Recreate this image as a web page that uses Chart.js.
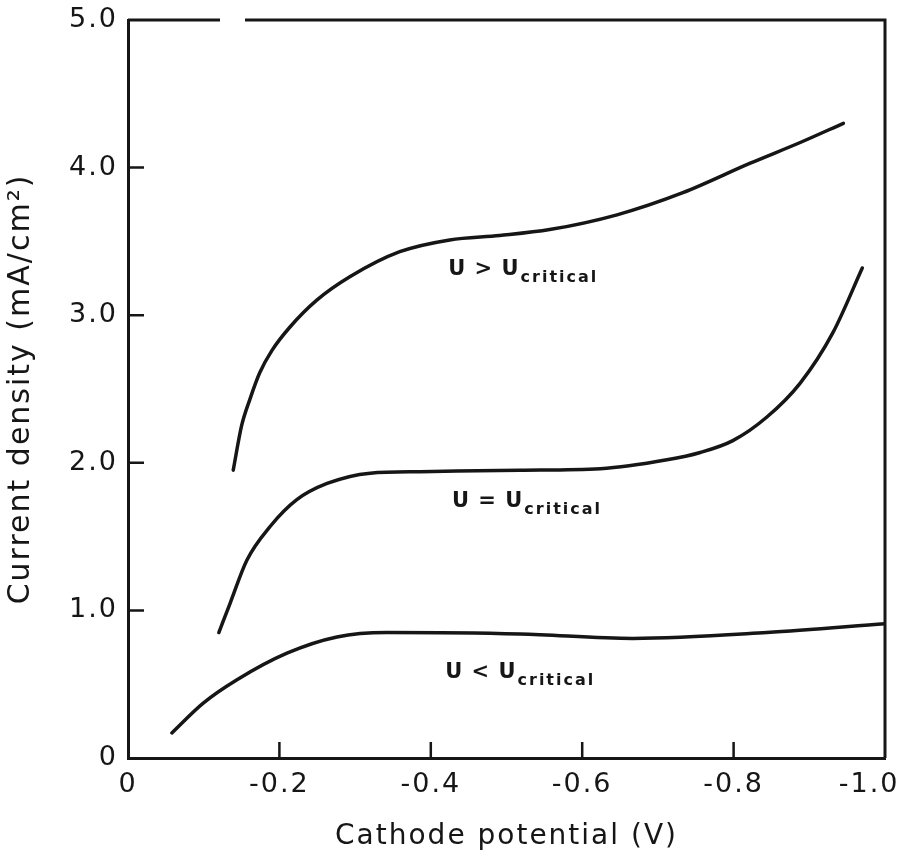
<!DOCTYPE html>
<html>
<head>
<meta charset="utf-8">
<script src="https://cdn.jsdelivr.net/npm/chart.js@4.4.1/dist/chart.umd.min.js"></script>
<style>
  html, body { margin: 0; padding: 0; background: #fff; }
  #wrap { width: 906px; height: 856px; }
</style>
</head>
<body>
<div id="wrap"><canvas id="chart" width="906" height="856"></canvas></div>
<script>
// Current density against cathode potential for three agitation regimes

// U > U critical
var aboveV = [-0.139, -0.150, -0.161, -0.174, -0.190, -0.214, -0.249, -0.293, -0.359, -0.425, -0.491, -0.557, -0.646, -0.733, -0.822, -0.888, -0.945];
var aboveJ = [1.95, 2.25, 2.43, 2.61, 2.76, 2.92, 3.10, 3.26, 3.43, 3.51, 3.54, 3.58, 3.68, 3.83, 4.03, 4.17, 4.30];

// U = U critical
var equalV = [-0.120, -0.135, -0.157, -0.188, -0.223, -0.263, -0.320, -0.386, -0.518, -0.624, -0.712, -0.756, -0.799, -0.844, -0.888, -0.931, -0.970];
var equalJ = [0.85, 1.05, 1.34, 1.57, 1.75, 1.86, 1.93, 1.94, 1.95, 1.96, 2.02, 2.07, 2.15, 2.31, 2.54, 2.88, 3.32];

// U < U critical
var belowV = [-0.058, -0.099, -0.144, -0.210, -0.276, -0.342, -0.518, -0.667, -0.844, -1.0];
var belowJ = [0.17, 0.37, 0.53, 0.71, 0.82, 0.85, 0.84, 0.81, 0.85, 0.91];

var regimes = ['>', '=', '<'];

var xTicks = [0, -0.2, -0.4, -0.6, -0.8, -1.0];
var xTickLabels = ['0', '-0.2', '-0.4', '-0.6', '-0.8', '-1.0'];
var yTicks = [0, 1, 2, 3, 4, 5];
var yTickLabels = ['0', '1.0', '2.0', '3.0', '4.0', '5.0'];

var INK = '#161616';
Chart.defaults.font.family = '"DejaVu Sans", sans-serif';
Chart.defaults.color = INK;

function toPoints(xs, ys) {
  return xs.map(function (x, i) { return { x: x, y: ys[i] }; });
}

function curve(xs, ys) {
  return {
    data: toPoints(xs, ys),
    borderColor: INK,
    borderWidth: 3.5,
    borderCapStyle: 'round',
    borderJoinStyle: 'round',
    pointRadius: 0,
    fill: false,
    cubicInterpolationMode: 'monotone'
  };
}

// Wider letter spacing for the axis text
var spacing = {
  id: 'spacing',
  beforeDraw: function (chart) {
    chart.ctx.letterSpacing = '2px';
  }
};

// Frame, inward tick marks and the regime labels
var decorations = {
  id: 'decorations',
  afterDatasetsDraw: function (chart, args, opts) {
    var ctx = chart.ctx;
    var a = chart.chartArea;
    var xs = chart.scales.x;
    var ys = chart.scales.y;
    ctx.save();
    ctx.strokeStyle = INK;
    ctx.lineWidth = 3;
    ctx.lineCap = 'butt';

    // top line, broken near the left, and right side
    ctx.beginPath();
    ctx.moveTo(a.left, a.top);
    ctx.lineTo(a.left + 92, a.top);
    ctx.moveTo(a.left + 117, a.top);
    ctx.lineTo(a.right, a.top);
    ctx.lineTo(a.right, a.bottom);
    ctx.stroke();

    // tick marks pointing into the plot
    ctx.lineWidth = 2.5;
    ctx.beginPath();
    xTicks.slice(1, -1).forEach(function (v) {
      var px = xs.getPixelForValue(v);
      ctx.moveTo(px, a.bottom);
      ctx.lineTo(px, a.bottom - 16);
    });
    yTicks.slice(1, -1).forEach(function (v) {
      var py = ys.getPixelForValue(v);
      ctx.moveTo(a.left, py);
      ctx.lineTo(a.left + 16, py);
    });
    ctx.stroke();

    // U ? U_critical labels
    ctx.fillStyle = INK;
    ctx.textBaseline = 'alphabetic';
    ctx.textAlign = 'left';
    opts.anchors.forEach(function (p, i) {
      var px = xs.getPixelForValue(p[0]);
      var py = ys.getPixelForValue(p[1]);
      ctx.font = 'bold 21px "DejaVu Sans"';
      ctx.letterSpacing = '1px';
      var main = 'U ' + regimes[i] + ' U';
      ctx.fillText(main, px, py);
      var w = ctx.measureText(main).width;
      ctx.font = 'bold 16px "DejaVu Sans"';
      ctx.letterSpacing = '2px';
      ctx.fillText('critical', px + w + 1, py + 7);
    });
    ctx.restore();
  }
};

new Chart(document.getElementById('chart'), {
  type: 'line',
  data: {
    datasets: [
      curve(aboveV, aboveJ),
      curve(equalV, equalJ),
      curve(belowV, belowJ)
    ]
  },
  plugins: [spacing, decorations],
  options: {
    responsive: false,
    animation: false,
    layout: { padding: { top: 20, right: 21, left: 0, bottom: 0 } },
    plugins: {
      legend: { display: false },
      tooltip: { enabled: false },
      decorations: {
        anchors: [[-0.423, 3.27], [-0.428, 1.70], [-0.419, 0.54]]
      }
    },
    scales: {
      x: {
        type: 'linear',
        min: -1.0,
        max: 0,
        reverse: true,
        afterBuildTicks: function (scale) {
          scale.ticks = xTicks.map(function (v) { return { value: v }; });
        },
        afterFit: function (scale) {
          scale.height = 98;
          scale.paddingLeft = 0;
          scale.paddingRight = 0;
        },
        grid: { display: false, drawTicks: false },
        border: { display: true, color: INK, width: 3 },
        ticks: {
          padding: 11,
          maxRotation: 0,
          font: { size: 27 },
          callback: function (v, i) {
            // pad the last label so it stays inside the canvas
            var last = i === xTickLabels.length - 1;
            return last ? xTickLabels[i] + '\u00a0\u00a0\u00a0' : xTickLabels[i];
          }
        },
        title: {
          display: true,
          text: 'Cathode potential (V)',
          font: { size: 28 },
          padding: { top: 0, bottom: 2 }
        }
      },
      y: {
        type: 'linear',
        min: 0,
        max: 5,
        afterBuildTicks: function (scale) {
          scale.ticks = yTicks.map(function (v) { return { value: v }; });
        },
        afterFit: function (scale) {
          scale.width = 128;
          scale.paddingTop = 0;
          scale.paddingBottom = 0;
        },
        grid: { display: false, drawTicks: false },
        border: { display: true, color: INK, width: 3 },
        ticks: {
          padding: 10,
          font: { size: 27 },
          callback: function (v, i) { return yTickLabels[i]; }
        },
        title: {
          display: true,
          text: 'Current density (mA/cm²)',
          font: { size: 30 },
          padding: { top: 3, bottom: 0 }
        }
      }
    }
  }
});
</script>
</body>
</html>
